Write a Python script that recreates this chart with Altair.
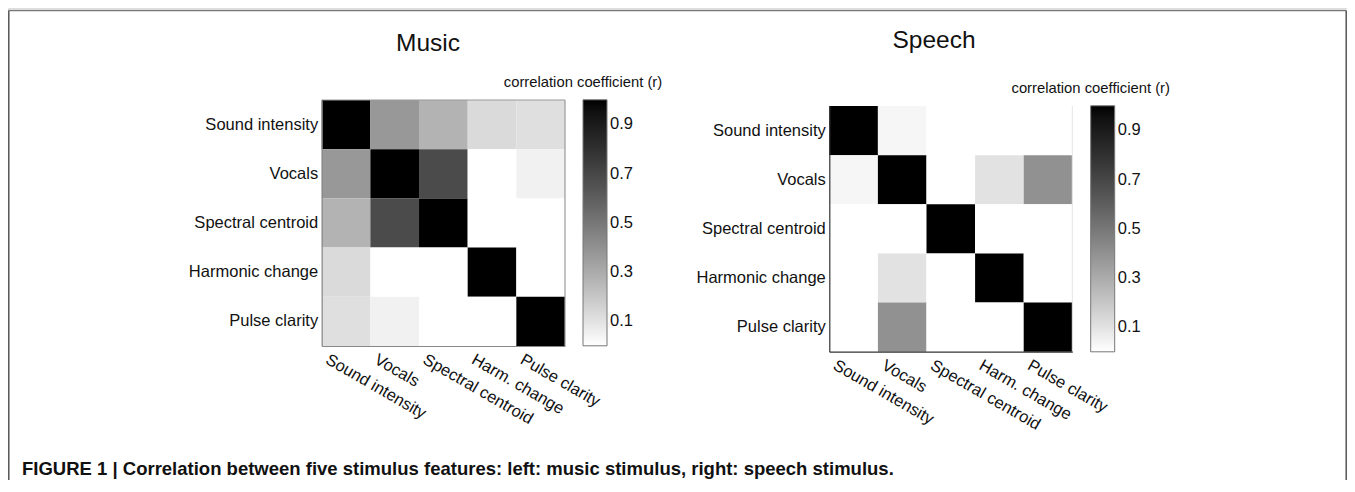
import altair as alt
import pandas as pd

# ---------------- data ----------------
features = ["Sound intensity", "Vocals", "Spectral centroid", "Harmonic change", "Pulse clarity"]
x_labels = ["Sound intensity", "Vocals", "Spectral centroid", "Harm. change", "Pulse clarity"]

music_sound = [1.00, 0.37, 0.27, 0.13, 0.11]
music_vocals = [0.37, 1.00, 0.68, 0.00, 0.05]
music_spectral = [0.27, 0.68, 1.00, 0.00, 0.00]
music_harmonic = [0.13, 0.00, 0.00, 1.00, 0.00]
music_pulse = [0.11, 0.05, 0.00, 0.00, 1.00]

speech_sound = [1.00, 0.03, 0.00, 0.00, 0.00]
speech_vocals = [0.03, 1.00, 0.00, 0.10, 0.40]
speech_spectral = [0.00, 0.00, 1.00, 0.00, 0.00]
speech_harmonic = [0.00, 0.10, 0.00, 1.00, 0.00]
speech_pulse = [0.00, 0.40, 0.00, 0.00, 1.00]

legend_values = [0.1, 0.3, 0.5, 0.7, 0.9]
legend_title = "correlation coefficient (r)"
panel_titles = ["Music", "Speech"]
caption = ("FIGURE 1 | Correlation between five stimulus features: left: music stimulus, "
           "right: speech stimulus.")

music_rows = [music_sound, music_vocals, music_spectral, music_harmonic, music_pulse]
speech_rows = [speech_sound, speech_vocals, speech_spectral, speech_harmonic, speech_pulse]


def long_table(rows):
    recs = []
    for i, row in enumerate(rows):
        for j, v in enumerate(row):
            recs.append({"fy": features[i], "fx": x_labels[j], "r": v})
    return pd.DataFrame(recs)


music_df = long_table(music_rows)
speech_df = long_table(speech_rows)

# ---------------- layout ----------------
W, H = 1339, 472
FONT = "Liberation Sans"


def heatmap(df, xr, yr, domain_color, lx, ly):
    return alt.Chart(df).mark_rect().encode(
        x=alt.X("fx:N", sort=x_labels,
                scale=alt.Scale(domain=x_labels, range=xr, paddingInner=0, paddingOuter=0),
                axis=alt.Axis(orient="bottom", offset=yr[1] - H, title=None, ticks=False,
                              grid=False, domainColor=domain_color, domainWidth=1.2,
                              labelAngle=30, labelAlign="left", labelBaseline="top",
                              labelPadding=5, labelOffset=-15,
                              labelFont=FONT, labelFontSize=16.5, labelColor="#111",
                              labelLimit=300)),
        y=alt.Y("fy:N", sort=features,
                scale=alt.Scale(domain=features, range=yr, paddingInner=0, paddingOuter=0),
                axis=alt.Axis(orient="left", offset=-xr[0], title=None, ticks=False,
                              grid=False, domainColor=domain_color, domainWidth=1.2,
                              labelPadding=4, labelFont=FONT, labelFontSize=16.5,
                              labelColor="#111", labelLimit=300)),
        color=alt.Color("r:Q",
                        scale=alt.Scale(domain=[0, 1], range=["#ffffff", "#000000"]),
                        legend=alt.Legend(orient="none", legendX=lx, legendY=ly,
                                          title=legend_title, values=legend_values,
                                          format=".1f", direction="vertical",
                                          gradientLength=246, gradientThickness=24,
                                          gradientStrokeColor="#777", gradientStrokeWidth=1,
                                          titleFont=FONT, titleFontSize=14.8,
                                          titleFontWeight="normal", titleColor="#111",
                                          titleAlign="center", titleAnchor="start",
                                          titlePadding=10, titleLimit=400,
                                          labelFont=FONT, labelFontSize=16.5,
                                          labelColor="#111", labelOffset=3)),
    )


music = heatmap(music_df, [313.7, 557.0], [92.0, 338.0], "#888", 496, 67)
speech = heatmap(speech_df, [821.3, 1064.3], [98.0, 343.7], "#333", 1003.7, 73)

dummy = pd.DataFrame({"k": [0]})
base = alt.Chart(dummy)

# figure frame (left, top, right)
frame_left = base.mark_rule(color="#555", strokeWidth=1.5).encode(
    x=alt.value(0.8), y=alt.value(2.5), y2=alt.value(H))
frame_top = base.mark_rule(color="#777", strokeWidth=1.5).encode(
    x=alt.value(0.8), x2=alt.value(W - 0.8), y=alt.value(2.5))
frame_right = base.mark_rule(color="#555", strokeWidth=1.5).encode(
    x=alt.value(W - 0.8), y=alt.value(2.5), y2=alt.value(H))

# music heatmap top/right border, speech faint right border
m_top = base.mark_rule(color="#999", strokeWidth=1.2).encode(
    x=alt.value(313.7), x2=alt.value(557.0), y=alt.value(92.0))
m_right = base.mark_rule(color="#999", strokeWidth=1.2).encode(
    x=alt.value(557.0), y=alt.value(92.0), y2=alt.value(338.0))
s_right = base.mark_rule(color="#e4e4e4", strokeWidth=1).encode(
    x=alt.value(1064.3), y=alt.value(98.0), y2=alt.value(343.7))

t_music = base.mark_text(text=panel_titles[0], font=FONT, fontSize=24.5, align="center",
                         baseline="alphabetic", color="#111").encode(
    x=alt.value(420), y=alt.value(43))
t_speech = base.mark_text(text=panel_titles[1], font=FONT, fontSize=24.5, align="center",
                          baseline="alphabetic", color="#111").encode(
    x=alt.value(926), y=alt.value(40))
t_caption = base.mark_text(text=caption, font=FONT, fontSize=18.5, fontWeight="bold",
                           align="left", baseline="alphabetic", color="#111").encode(
    x=alt.value(14), y=alt.value(467))

chart = alt.layer(
    music, speech, frame_left, frame_top, frame_right, m_top, m_right, s_right,
    t_music, t_speech, t_caption
).resolve_scale(
    x="independent", y="independent", color="independent"
).resolve_axis(
    x="independent", y="independent"
).resolve_legend(
    color="independent"
).properties(
    width=W, height=H, padding=0, autosize=alt.AutoSizeParams(type="none")
).configure_view(
    stroke=None
).configure(
    background="white"
)

chart.save("out.html", embed_options={"renderer": "svg", "actions": False})
